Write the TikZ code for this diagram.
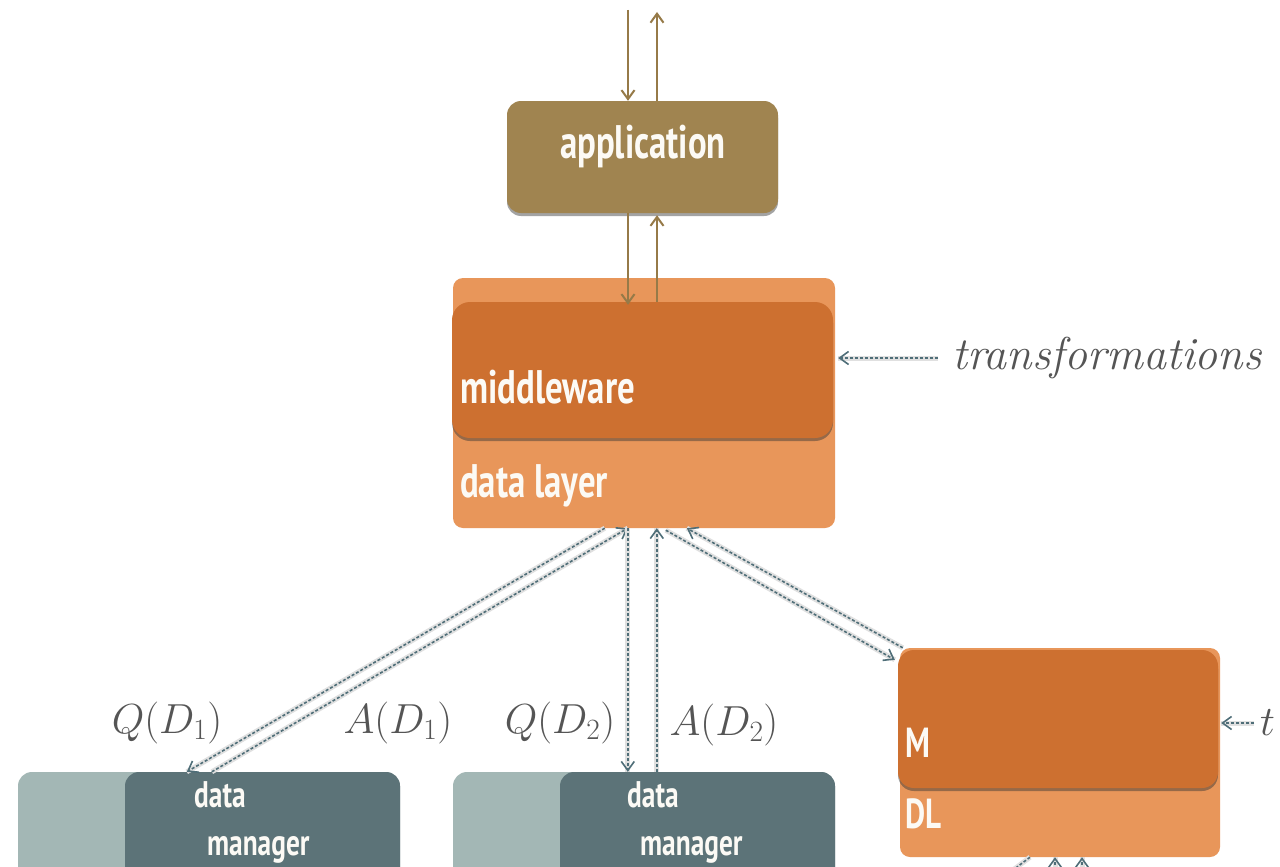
\RequirePackage{fix-cm}
\documentclass[tikz,border=0pt]{standalone}
\usepackage{fontspec}
\newfontfamily\cond[FakeStretch=0.74]{PT Sans Bold}
\usetikzlibrary{shadows,arrows.meta}
\definecolor{appc}{RGB}{160,132,80}
\definecolor{mwc}{RGB}{205,112,48}
\definecolor{dlc}{RGB}{232,150,90}
\definecolor{dmd}{RGB}{92,115,120}
\definecolor{dml}{RGB}{163,183,181}
\definecolor{arrc}{RGB}{79,110,120}
\definecolor{labc}{RGB}{85,85,85}
\definecolor{brc}{RGB}{150,122,72}
\definecolor{txtw}{RGB}{252,250,245}
\tikzset{
  box/.style={rectangle, inner sep=0pt, draw=none},
  shad/.style={drop shadow={shadow xshift=0pt, shadow yshift=-3pt, opacity=0.45, fill=black!80}},
  wtxt/.style={text=txtw, font=\cond\fontsize{47}{50}\selectfont, inner sep=0pt},
  stxt/.style={text=txtw, font=\cond\fontsize{37}{40}\selectfont, inner sep=0pt},
  mtxt/.style={text=txtw, font=\cond\fontsize{42}{46}\selectfont, inner sep=0pt},
  lab/.style={text=labc, font=\fontsize{42}{46}\selectfont, inner sep=0pt},
  brarrow/.style={draw=brc, line width=2pt, -{Straight Barb[length=9pt,width=13pt,line width=2pt]}},
  dasharrow/.style={draw=arrc, line width=1.6pt, dash pattern=on 3pt off 2pt,
     preaction={draw=black!12, line width=5pt, solid, -},
     -{Straight Barb[length=9pt,width=13pt,line width=1.6pt]}},
}
\begin{document}
\begin{tikzpicture}[x=1pt,y=-1pt]
\useasboundingbox (0,0) rectangle (1280,867);
\fill[white] (0,0) rectangle (1280,867);

% application
\node[box, fill=appc, rounded corners=14pt, shad, minimum width=271pt, minimum height=112pt] (app) at (642.5,157) {};
\node[wtxt] (apptxt) at (643,146) {application};

% data layer + middleware
\node[box, fill=dlc, rounded corners=10pt, minimum width=382pt, minimum height=250pt] (dl) at (644,403) {};
\node[box, fill=mwc, rounded corners=18pt, shad, minimum width=381pt, minimum height=136pt] (mw) at (642.5,370) {};
\node[wtxt, anchor=base west] (mwtxt) at (460,403) {middleware};
\node[wtxt, anchor=base west] (dltxt) at (460,497) {data layer};

% right DL + M
\node[box, fill=dlc, rounded corners=10pt, minimum width=320pt, minimum height=209pt] (dlr) at (1060,752.5) {};
\node[box, fill=mwc, rounded corners=16pt, shad, minimum width=320pt, minimum height=138pt] (mr) at (1058,719) {};
\node[mtxt, anchor=base west] (mtxt) at (905,757) {M};
\node[mtxt, anchor=base west] (dlrtxt) at (905,828) {DL};

% data managers
\node[box, fill=dml, rounded corners=14pt, minimum width=382pt, minimum height=200pt] (dm1l) at (209,872) {};
\node[box, fill=dmd, rounded corners=14pt, minimum width=275pt, minimum height=200pt] (dm1) at (262.5,872) {};
\node[stxt, anchor=base west] (dm1a) at (194,807) {data};
\node[stxt, anchor=base west] (dm1b) at (207,855) {manager};

\node[box, fill=dml, rounded corners=14pt, minimum width=382pt, minimum height=200pt] (dm2l) at (644,872) {};
\node[box, fill=dmd, rounded corners=14pt, minimum width=275pt, minimum height=200pt] (dm2) at (697.5,872) {};
\node[stxt, anchor=base west] (dm2a) at (627,807) {data};
\node[stxt, anchor=base west] (dm2b) at (640,855) {manager};

% top arrows
\coordinate (inTop) at (628,10);
\coordinate (outTop) at (657,12);
\draw[brarrow] (inTop) -- (inTop |- app.north);
\draw[brarrow] (app.north -| outTop) -- (outTop);
\draw[brarrow] (app.south -| inTop) -- ([yshift=-3pt]mw.north -| inTop);
\draw[brarrow] (mw.north -| outTop) -- ([yshift=-2pt]app.south -| outTop);

% labels
\node[lab, font=\itshape\fontsize{46}{50}\selectfont, anchor=west] (trans) at (952,358) {transformations};
\coordinate (trs) at ([xshift=-14pt]trans.west);
\draw[dasharrow] (trs) -- ([xshift=3pt]trs -| dl.east);
\node[lab, anchor=base west] (tlab) at (1260,735) {$t$};
\coordinate (ts) at ([xshift=-6pt,yshift=12pt]tlab.base west);
\draw[dasharrow] (ts) -- ([xshift=1pt]ts -| dlr.east);

\node[lab, anchor=base] (q1) at (167,733) {$Q(D_1)$};
\node[lab, anchor=base] (a1) at (398,733) {$A(D_1)$};
\node[lab, anchor=base] (q2) at (560,733) {$Q(D_2)$};
\node[lab, anchor=base] (a2) at (724,735) {$A(D_2)$};

% dashed connectors
\draw[dasharrow] ([xshift=152pt]dl.south west) -- ([xshift=62pt]dm1.north west);
\draw[dasharrow] ([xshift=87pt]dm1.north west) -- ([xshift=175pt]dl.south west);
\draw[dasharrow] ([xshift=175pt]dl.south west) -- ([xshift=68pt]dm2.north west);
\draw[dasharrow] ([xshift=97pt]dm2.north west) -- ([xshift=204pt]dl.south west);
\draw[dasharrow] ([xshift=213pt,yshift=-2pt]dl.south west) -- ([xshift=-3pt,yshift=-10pt]mr.north west);
\draw[dasharrow] ([xshift=5pt,yshift=2pt]mr.north west) -- ([xshift=234pt]dl.south west);

% stubs below right DL
\coordinate (s1) at (1000,880);
\coordinate (s2) at (1055,900);
\coordinate (s3) at (1082,900);
\draw[dasharrow, -] ([xshift=-30pt]dlr.south) -- (s1);
\draw[dasharrow] (s2) -- (s2 |- dlr.south);
\draw[dasharrow] (s3) -- (s3 |- dlr.south);
\end{tikzpicture}
\end{document}
